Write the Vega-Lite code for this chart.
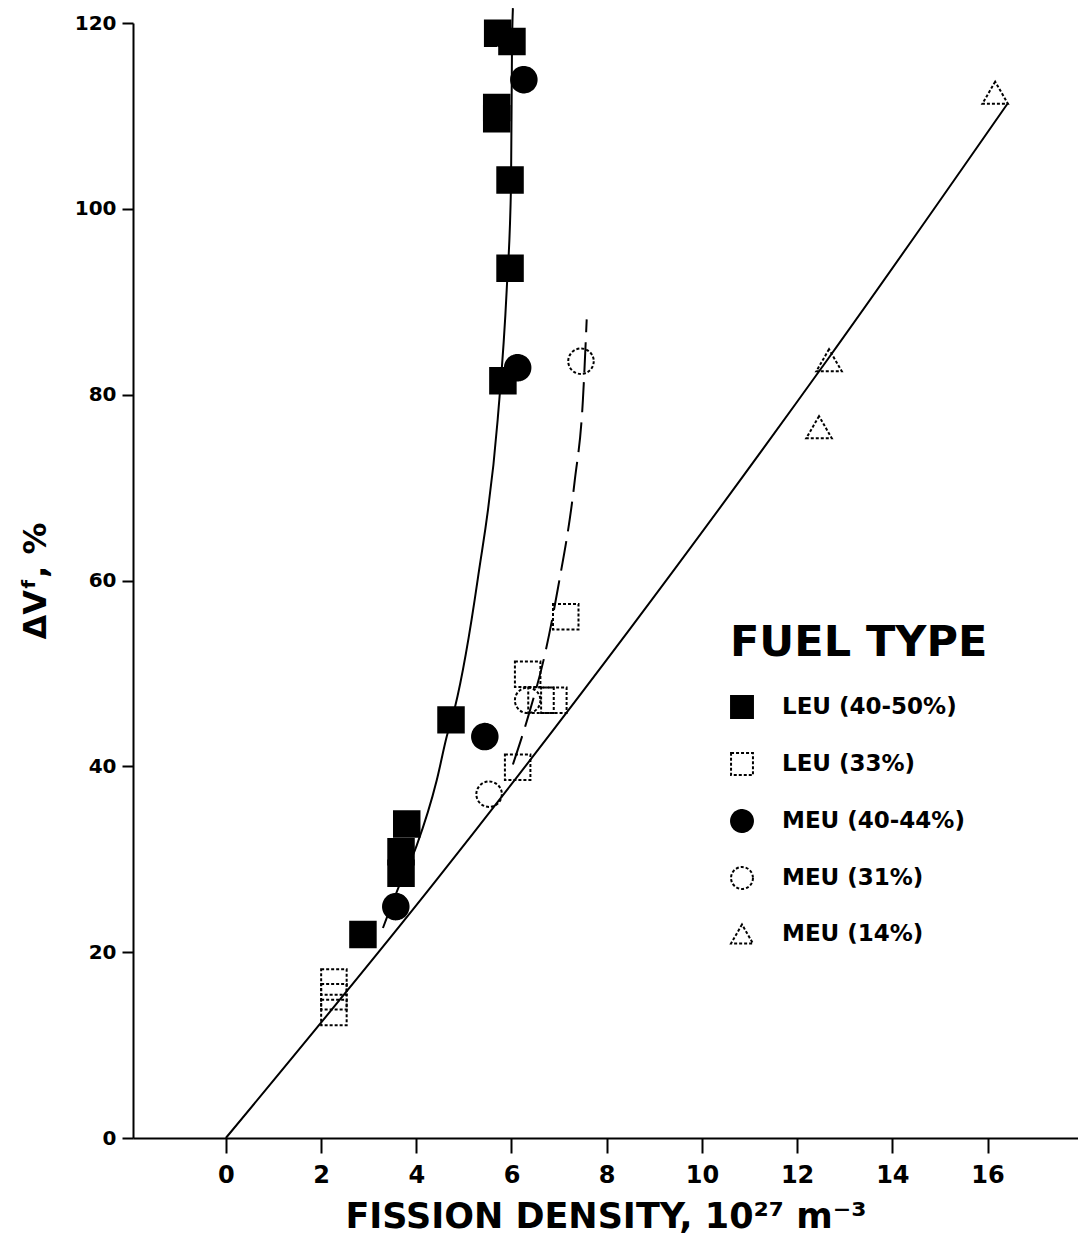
{
  "$schema": "https://vega.github.io/schema/vega-lite/v6.json",
  "autosize": {"type": "none"},
  "padding": {"left": 133, "top": 23, "right": 0, "bottom": 97},
  "width": 945,
  "height": 1115,
  "background": "white",
  "config": {
    "view": {"stroke": null},
    "font": "DejaVu Sans",
    "axis": {
      "domainColor": "black", "domainWidth": 2, "tickColor": "black", "tickWidth": 2,
      "grid": false, "labelColor": "black", "titleColor": "black",
      "labelFont": "DejaVu Sans", "labelFontWeight": "bold",
      "titleFont": "DejaVu Sans", "titleFontWeight": "bold"
    },
    "legend": {
      "titleFont": "DejaVu Sans", "titleFontWeight": "bold", "titleColor": "black",
      "labelFont": "DejaVu Sans", "labelFontWeight": "bold", "labelColor": "black"
    }
  },
  "datasets": {
    "points": [
      {"fd": 5.71, "dv": 118.9, "fuel": "LEU (40-50%)"},
      {"fd": 6.01, "dv": 118.0, "fuel": "LEU (40-50%)"},
      {"fd": 5.69, "dv": 110.9, "fuel": "LEU (40-50%)"},
      {"fd": 5.69, "dv": 109.7, "fuel": "LEU (40-50%)"},
      {"fd": 5.97, "dv": 103.1, "fuel": "LEU (40-50%)"},
      {"fd": 5.97, "dv": 93.6, "fuel": "LEU (40-50%)"},
      {"fd": 5.82, "dv": 81.5, "fuel": "LEU (40-50%)"},
      {"fd": 4.73, "dv": 45.0, "fuel": "LEU (40-50%)"},
      {"fd": 3.80, "dv": 33.8, "fuel": "LEU (40-50%)"},
      {"fd": 3.68, "dv": 30.8, "fuel": "LEU (40-50%)"},
      {"fd": 3.68, "dv": 28.5, "fuel": "LEU (40-50%)"},
      {"fd": 2.88, "dv": 21.9, "fuel": "LEU (40-50%)"},
      {"fd": 7.14, "dv": 56.1, "fuel": "LEU (33%)"},
      {"fd": 6.34, "dv": 49.9, "fuel": "LEU (33%)"},
      {"fd": 6.62, "dv": 47.1, "fuel": "LEU (33%)"},
      {"fd": 6.89, "dv": 47.1, "fuel": "LEU (33%)"},
      {"fd": 6.13, "dv": 39.9, "fuel": "LEU (33%)"},
      {"fd": 2.27, "dv": 16.8, "fuel": "LEU (33%)"},
      {"fd": 2.27, "dv": 15.2, "fuel": "LEU (33%)"},
      {"fd": 2.27, "dv": 13.5, "fuel": "LEU (33%)"},
      {"fd": 6.26, "dv": 113.9, "fuel": "MEU (40-44%)"},
      {"fd": 6.13, "dv": 82.9, "fuel": "MEU (40-44%)"},
      {"fd": 5.44, "dv": 43.2, "fuel": "MEU (40-44%)"},
      {"fd": 3.57, "dv": 24.9, "fuel": "MEU (40-44%)"},
      {"fd": 7.46, "dv": 83.6, "fuel": "MEU (31%)"},
      {"fd": 6.34, "dv": 47.1, "fuel": "MEU (31%)"},
      {"fd": 5.53, "dv": 37.0, "fuel": "MEU (31%)"},
      {"fd": 16.16, "dv": 112.5, "fuel": "MEU (14%)"},
      {"fd": 12.67, "dv": 83.7, "fuel": "MEU (14%)"},
      {"fd": 12.46, "dv": 76.5, "fuel": "MEU (14%)"}
    ],
    "curves": [
      {"curve": "A", "fd": 3.30, "dv": 22.6},
      {"curve": "A", "fd": 3.63, "dv": 27.0},
      {"curve": "A", "fd": 4.01, "dv": 31.5},
      {"curve": "A", "fd": 4.43, "dv": 38.5},
      {"curve": "A", "fd": 4.64, "dv": 43.2},
      {"curve": "A", "fd": 4.81, "dv": 46.3},
      {"curve": "A", "fd": 5.29, "dv": 60.1},
      {"curve": "A", "fd": 5.71, "dv": 77.3},
      {"curve": "A", "fd": 5.90, "dv": 91.3},
      {"curve": "A", "fd": 5.99, "dv": 102.4},
      {"curve": "A", "fd": 6.01, "dv": 116.8},
      {"curve": "A", "fd": 6.03, "dv": 121.6},
      {"curve": "B", "fd": 6.03, "dv": 40.2},
      {"curve": "B", "fd": 6.37, "dv": 45.7},
      {"curve": "B", "fd": 6.70, "dv": 52.0},
      {"curve": "B", "fd": 6.97, "dv": 59.0},
      {"curve": "B", "fd": 7.33, "dv": 70.8},
      {"curve": "B", "fd": 7.50, "dv": 79.4},
      {"curve": "B", "fd": 7.58, "dv": 88.1},
      {"curve": "C", "fd": 0.0, "dv": 0.0},
      {"curve": "C", "fd": 4.43, "dv": 27.8},
      {"curve": "C", "fd": 8.49, "dv": 54.8},
      {"curve": "C", "fd": 12.67, "dv": 84.0},
      {"curve": "C", "fd": 16.43, "dv": 111.4}
    ]
  },
  "encoding": {
    "x": {
      "field": "fd", "type": "quantitative",
      "scale": {"domain": [-1.95, 17.9], "nice": false, "zero": false},
      "axis": {
        "title": "FISSION DENSITY, 10²⁷ m⁻³",
        "values": [0, 2, 4, 6, 8, 10, 12, 14, 16],
        "tickSize": 15, "labelPadding": 10, "labelFontSize": 24,
        "titleFontSize": 35, "titleBaseline": "alphabetic", "titleY": 89
      }
    },
    "y": {
      "field": "dv", "type": "quantitative",
      "scale": {"domain": [0, 120], "nice": false},
      "axis": {
        "title": "ΔVᶠ, %",
        "values": [0, 20, 40, 60, 80, 100, 120],
        "tickSize": 11, "labelPadding": 6, "labelFontSize": 20,
        "titleFontSize": 32, "titleBaseline": "alphabetic", "titleX": -88
      }
    }
  },
  "layer": [
    {
      "data": {"name": "curves"},
      "transform": [{"filter": "datum.curve !== 'B'"}],
      "mark": {"type": "line", "interpolate": "monotone", "color": "black", "strokeWidth": 2, "clip": false},
      "encoding": {"detail": {"field": "curve"}}
    },
    {
      "data": {"name": "curves"},
      "transform": [{"filter": "datum.curve === 'B'"}],
      "mark": {"type": "line", "interpolate": "monotone", "color": "black", "strokeWidth": 2, "strokeDash": [30, 10], "clip": false},
      "encoding": {}
    },
    {
      "data": {"name": "points"},
      "mark": {"type": "point", "filled": true, "size": 650, "strokeWidth": 2, "opacity": 1},
      "encoding": {
        "shape": {
          "field": "fuel", "type": "nominal", "title": "FUEL TYPE",
          "scale": {
            "domain": ["LEU (40-50%)", "LEU (33%)", "MEU (40-44%)", "MEU (31%)", "MEU (14%)"],
            "range": ["square", "square", "circle", "circle", "triangle-up"]
          },
          "legend": {
            "orient": "none", "legendX": 597, "legendY": 599,
            "titleFontSize": 43, "titlePadding": 30, "titleLimit": 500, "labelFontSize": 23, "labelLimit": 400,
            "symbolSize": 480, "symbolStrokeWidth": 2,
            "rowPadding": 27, "labelOffset": 28, "padding": 0
          }
        },
        "fill": {
          "field": "fuel", "type": "nominal", "title": "FUEL TYPE",
          "scale": {
            "domain": ["LEU (40-50%)", "LEU (33%)", "MEU (40-44%)", "MEU (31%)", "MEU (14%)"],
            "range": ["black", "transparent", "black", "transparent", "transparent"]
          }
        },
        "stroke": {
          "field": "fuel", "type": "nominal", "title": "FUEL TYPE",
          "scale": {
            "domain": ["LEU (40-50%)", "LEU (33%)", "MEU (40-44%)", "MEU (31%)", "MEU (14%)"],
            "range": ["black", "black", "black", "black", "black"]
          }
        },
        "strokeDash": {
          "field": "fuel", "type": "nominal", "title": "FUEL TYPE",
          "scale": {
            "domain": ["LEU (40-50%)", "LEU (33%)", "MEU (40-44%)", "MEU (31%)", "MEU (14%)"],
            "range": [[1, 0], [3, 2], [1, 0], [3, 2], [3, 2]]
          }
        }
      }
    }
  ]
}
